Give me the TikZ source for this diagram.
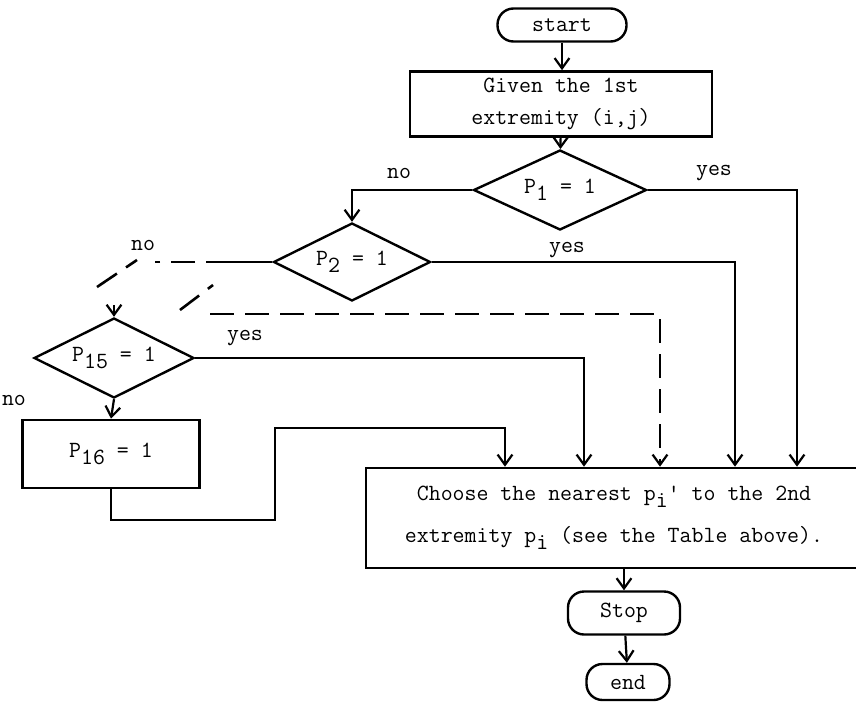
\documentclass[tikz,border=0pt]{standalone}
\usepackage{tikz}
\usetikzlibrary{arrows.meta,positioning,shapes.geometric}
\newcommand{\lowsub}[1]{\raisebox{-0.75ex}{#1}}

\begin{document}
\begin{tikzpicture}[
    x=0.5pt, y=-0.5pt,
    font=\ttfamily\fontsize{11.6}{16}\selectfont,
    terminal/.style={
        draw,
        rounded corners=8pt,
        align=center,
        inner sep=1pt,
        line width=1.2pt
    },
    box/.style={
        draw,
        align=center,
        inner sep=2pt,
        line width=1.3pt
    },
    decision/.style={
        draw,
        diamond,
        aspect=2.0,
        align=center,
        inner sep=0pt,
        line width=1.2pt
    },
    tag/.style={inner sep=1pt},
    arrow/.style={-{Straight Barb[length=1.8mm,width=2.6mm]}, line width=1.1pt},
    skipline/.style={dash pattern=on 12pt off 5.5pt, line width=1.3pt}
]
\useasboundingbox (0,0) rectangle (856,701);

\node[terminal, minimum width=64.5pt, minimum height=16.5pt] (start) at (562,25) {start};
\node[box, minimum width=151pt, minimum height=32.5pt] (given) at (561,104) {Given the 1st\\extremity (i,j)};
\node[decision, minimum width=86.5pt, minimum height=40pt] (p1) at (560,190) {P\lowsub{1} = 1};
\node[decision, minimum width=78.5pt, minimum height=39pt] (p2) at (352,262) {P\lowsub{2} = 1};
\node[decision, minimum width=80pt, minimum height=40pt] (p15) at (114,358) {P\lowsub{15} = 1};
\node[box, minimum width=88.5pt, minimum height=34pt] (p16) at (111,454) {P\lowsub{16} = 1};
\node[box, minimum width=248pt, minimum height=50pt] (main) at (614,518) {Choose the nearest p\lowsub{i}\textquotesingle{} to the 2nd\\[5pt]extremity p\lowsub{i} (see the Table above).};
\node[terminal, minimum width=56pt, minimum height=21.5pt] (stop) at (624,613) {Stop};
\node[terminal, minimum width=41.5pt, minimum height=18pt] (end) at (628,682) {end};

\node[tag] (no1) at (399,173) {no};
\node[tag] (yes1) at (714,173) {yes};
\node[tag] (no2) at (143,245) {no};
\node[tag] (yes2) at (567,250) {yes};
\node[tag] (yes3) at (245,338) {yes};
\node[tag] (no3) at (14,400) {no};

\coordinate (colA) at (797,0);
\coordinate (colB) at (735,0);
\coordinate (colC) at (660,0);
\coordinate (colD) at (584,0);
\coordinate (cut) at (230,262);
\coordinate (noend) at (155,262);
\coordinate (d1a) at (97,287);
\coordinate (d1b) at (137,260);
\coordinate (d2a) at (180,310);
\coordinate (d2b) at (213,285);
\coordinate (skip) at (210,314);
\coordinate (p15in) at (114,305);
\coordinate (ret1) at (275,520);
\coordinate (ret2) at (505,428);

\draw[arrow] (start.south) -- (start.south |- given.north);
\draw[arrow] (given) -- (p1);
\draw[arrow] (p1.west) -| (p2.north);
\draw[arrow] (p1.east) -| (colA |- main.north);
\draw[arrow] (p2.east) -| (colB |- main.north);
\draw[line width=1.3pt] (p2.west) -- (cut);
\draw[skipline] (cut) -- (noend);
\draw[skipline] (d1a) -- (d1b);
\draw[skipline] (d2a) -- (d2b);
\draw[skipline, arrow] (skip) -| (colC |- main.north);
\draw[arrow] (p15in) -- (p15.north);
\draw[arrow] (p15.east) -| (colD |- main.north);
\draw[arrow] (p15.south) -- (p16.north);
\draw[arrow] (p16.south) |- (ret1) |- (ret2) -- (ret2 |- main.north);
\draw[arrow] (main.south -| stop.north) -- (stop.north);
\draw[arrow] (stop) -- (end);
\end{tikzpicture}
\end{document}
